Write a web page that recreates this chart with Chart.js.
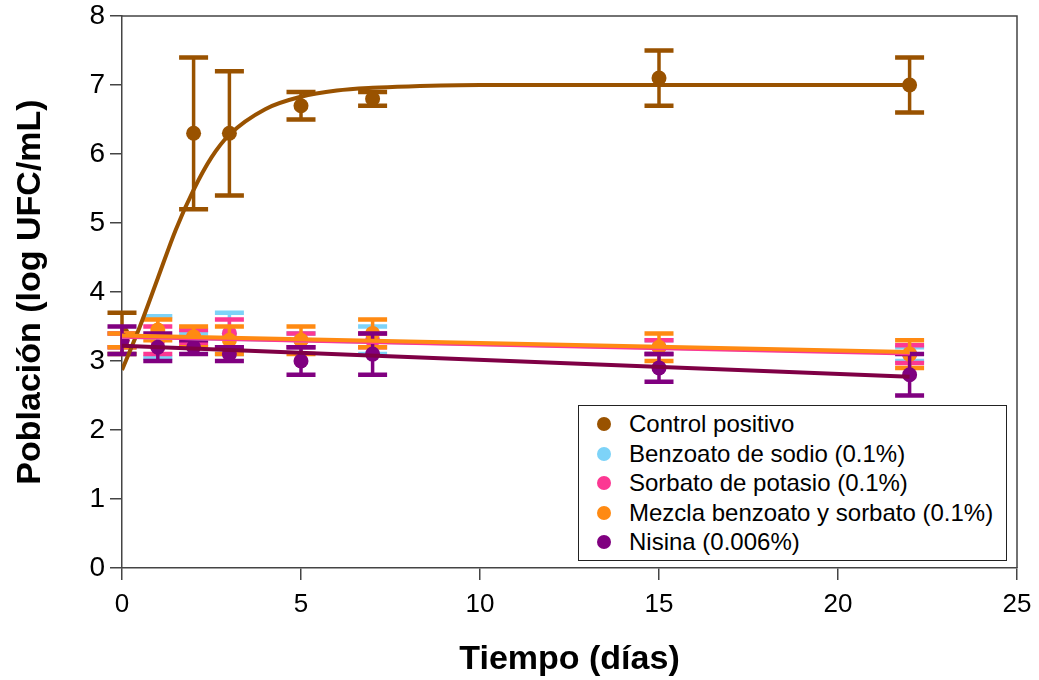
<!DOCTYPE html>
<html>
<head>
<meta charset="utf-8">
<script src="https://cdn.jsdelivr.net/npm/chart.js@4.4.1/dist/chart.umd.min.js"></script>
<style>
  html, body { margin: 0; padding: 0; background: #fff; }
  #wrap { position: relative; width: 1039px; height: 680px; }
  #legend {
    position: absolute; left: 578px; top: 405px; width: 427px; height: 151px;
    border: 1px solid #222; background: #fff; padding-top: 3px; box-sizing: content-box;
    font-family: "Liberation Sans", Arial, Helvetica, sans-serif; font-size: 24px; color: #000;
  }
  #legend div { height: 29.5px; line-height: 29.5px; position: relative; padding-left: 50px; white-space: nowrap; }
  #legend span { position: absolute; left: 18px; top: 8px; width: 14px; height: 14px; border-radius: 50%; }
</style>
</head>
<body>
<div id="wrap">
  <canvas id="chart" width="1039" height="680"></canvas>
  <div id="legend"></div>
</div>
<script>
/* ——— data ——— */
const DAYS         = [0, 1, 2, 3, 5, 7, 15, 22];
const CONTROL_DAYS = [0, 2, 3, 5, 7, 15, 22];

const CONTROL      = [3.4, 6.3, 6.3, 6.7, 6.8, 7.1, 7.0];
const CONTROL_ERR  = [0.3, 1.1, 0.9, 0.2, 0.1, 0.4, 0.4];
const BENZOATO     = [3.3, 3.35, 3.3, 3.4, 3.3, 3.3, 3.2, 3.1];
const BENZOATO_ERR = [0.1, 0.3, 0.1, 0.3, 0.1, 0.2, 0.1, 0.1];
const SORBATO      = [3.3, 3.3, 3.35, 3.4, 3.3, 3.3, 3.2, 3.1];
const SORBATO_ERR  = [0.1, 0.2, 0.1, 0.2, 0.1, 0.1, 0.1, 0.13];
const MEZCLA       = [3.3, 3.45, 3.35, 3.3, 3.3, 3.4, 3.2, 3.1];
const MEZCLA_ERR   = [0.1, 0.15, 0.15, 0.2, 0.2, 0.2, 0.2, 0.2];
const NISINA       = [3.3, 3.2, 3.2, 3.1, 3.0, 3.1, 2.9, 2.8];
const NISINA_ERR   = [0.2, 0.2, 0.1, 0.1, 0.2, 0.3, 0.2, 0.3];

// fitted curves
const CONTROL_FIT_X = [0, 0.5, 1, 1.5, 2, 2.5, 3, 4, 5, 6, 7, 8, 10, 15, 22];
const CONTROL_FIT_Y = [2.87, 3.5, 4.2, 4.9, 5.48, 5.95, 6.28, 6.65, 6.83, 6.92, 6.96, 6.98, 7.0, 7.0, 7.0];
const LIN_FIT_X     = [0, 22];
const BENZOATO_FIT  = [3.35, 3.12];
const SORBATO_FIT   = [3.35, 3.11];
const MEZCLA_FIT    = [3.37, 3.13];
const NISINA_FIT    = [3.22, 2.77];

const NAMES = ['Control positivo', 'Benzoato de sodio (0.1%)', 'Sorbato de potasio (0.1%)',
               'Mezcla benzoato y sorbato (0.1%)', 'Nisina (0.006%)'];

const X_TICKS = [0, 5, 10, 15, 20, 25];
const Y_TICKS = [0, 1, 2, 3, 4, 5, 6, 7, 8];

/* ——— styles ——— */
const COLOURS   = ['#995200', '#7DD3F8', '#FC3893', '#FF8A12', '#800080'];
const LINE_COLS = ['#995200', '#7DD3F8', '#FC3893', '#FF8A12', '#7F0045'];
const FONT = '"Liberation Sans", Arial, Helvetica, sans-serif';

const pts = (xs, ys) => xs.map((x, i) => ({ x, y: ys[i] }));

const seriesX   = [CONTROL_DAYS, DAYS, DAYS, DAYS, DAYS];
const seriesY   = [CONTROL, BENZOATO, SORBATO, MEZCLA, NISINA];
const seriesErr = [CONTROL_ERR, BENZOATO_ERR, SORBATO_ERR, MEZCLA_ERR, NISINA_ERR];
const fits = [
  [CONTROL_FIT_X, CONTROL_FIT_Y],
  [LIN_FIT_X, BENZOATO_FIT],
  [LIN_FIT_X, SORBATO_FIT],
  [LIN_FIT_X, MEZCLA_FIT],
  [LIN_FIT_X, NISINA_FIT]
];

const datasets = [];
// fit lines on top
fits.forEach(([xs, ys], i) => datasets.push({
  type: 'line', label: NAMES[i] + ' fit', data: pts(xs, ys),
  borderColor: LINE_COLS[i], borderWidth: 4, pointRadius: 0, fill: false,
  cubicInterpolationMode: i === 0 ? 'monotone' : 'default', order: 4 - i
}));
// points + error bars (Nisina on top, control at bottom)
seriesY.forEach((ys, i) => datasets.push({
  type: 'scatter', label: NAMES[i], data: pts(seriesX[i], ys), errors: seriesErr[i],
  backgroundColor: COLOURS[i], borderColor: COLOURS[i], pointRadius: 7.5,
  pointBorderWidth: 0, showLine: false, order: 20 - i
}));

/* ——— error bar plugin ——— */
const errorBars = {
  id: 'errorBars',
  beforeDatasetDraw(chart, args) {
    const ds = chart.data.datasets[args.index];
    if (!ds.errors) return;
    const { ctx, scales: { x, y } } = chart;
    ctx.save();
    ctx.strokeStyle = ds.borderColor;
    ds.data.forEach((p, i) => {
      const e = ds.errors[i];
      const px = x.getPixelForValue(p.x);
      const top = y.getPixelForValue(p.y + e), bot = y.getPixelForValue(p.y - e);
      ctx.lineWidth = 3.5;
      ctx.beginPath(); ctx.moveTo(px, top); ctx.lineTo(px, bot); ctx.stroke();
      ctx.lineWidth = 4.5;
      ctx.beginPath();
      ctx.moveTo(px - 14.5, top); ctx.lineTo(px + 14.5, top);
      ctx.moveTo(px - 14.5, bot); ctx.lineTo(px + 14.5, bot);
      ctx.stroke();
    });
    ctx.restore();
  }
};

/* ——— top / right frame ——— */
const frame = {
  id: 'frame',
  afterDraw(chart) {
    const { ctx, chartArea: a } = chart;
    ctx.save();
    ctx.strokeStyle = '#444'; ctx.lineWidth = 1.5;
    ctx.beginPath();
    ctx.moveTo(a.left, a.top); ctx.lineTo(a.right, a.top); ctx.lineTo(a.right, a.bottom);
    ctx.stroke();
    ctx.restore();
  }
};

const axisCommon = {
  type: 'linear',
  grid: { drawOnChartArea: false, drawTicks: true, tickLength: 12, color: '#444', lineWidth: 1.5 },
  border: { display: true, color: '#444', width: 1.5 }
};

new Chart(document.getElementById('chart'), {
  data: { datasets },
  options: {
    responsive: false, animation: false, devicePixelRatio: 1,
    layout: { padding: { left: 6, right: 22, top: 16, bottom: 0 } },
    plugins: { legend: { display: false }, tooltip: { enabled: false } },
    scales: {
      x: {
        ...axisCommon, position: 'bottom', min: X_TICKS[0], max: X_TICKS[X_TICKS.length - 1],
        afterBuildTicks: s => { s.ticks = X_TICKS.map(v => ({ value: v })); },
        afterFit: s => { s.height = 112; s.paddingLeft = 0; s.paddingRight = 0; },
        ticks: { color: '#000', padding: 9, font: { family: FONT, size: 26 } },
        title: { display: true, text: 'Tiempo (días)', color: '#000',
                 padding: { top: 0, bottom: 0 }, font: { family: FONT, size: 34, weight: 'bold' } }
      },
      y: {
        ...axisCommon, position: 'left', min: Y_TICKS[0], max: Y_TICKS[Y_TICKS.length - 1],
        afterBuildTicks: s => { s.ticks = Y_TICKS.map(v => ({ value: v })); },
        afterFit: s => { s.width = 116; s.paddingTop = 0; s.paddingBottom = 0; },
        ticks: { color: '#000', padding: 5, font: { family: FONT, size: 28 } },
        title: { display: true, text: 'Población (log UFC/mL)', color: '#000',
                 padding: { top: 4, bottom: 4 }, font: { family: FONT, size: 34, weight: 'bold' } }
      }
    }
  },
  plugins: [errorBars, frame]
});

/* ——— legend ——— */
document.getElementById('legend').innerHTML = NAMES.map((n, i) =>
  `<div><span style="background:${COLOURS[i]}"></span>${n}</div>`).join('');
</script>
</body>
</html>
